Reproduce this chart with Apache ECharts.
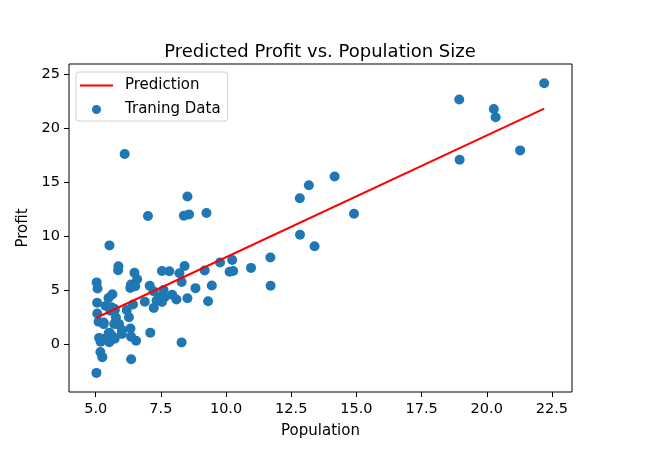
<!DOCTYPE html>
<html>
<head>
<meta charset="utf-8">
<script src="https://cdn.jsdelivr.net/npm/echarts@6/dist/echarts.min.js"></script>
<style>
html,body{margin:0;padding:0;background:#fff;}
#chart{width:659px;height:472px;}
</style>
</head>
<body>
<div id="chart"></div>
<script>
// Training data (Population, Profit)
const population = [6.1101,5.5277,8.5186,7.0032,5.8598,8.3829,7.4764,8.5781,6.4862,5.0546,5.7107,14.164,5.734,8.4084,5.6407,5.3794,6.3654,5.1301,6.4296,7.0708,6.1891,20.27,5.4901,6.3261,5.5649,18.945,12.828,10.957,13.176,22.203,5.2524,6.5894,9.2482,5.8918,8.2111,7.9334,8.0959,5.6063,12.836,6.3534,5.4069,6.8825,11.708,5.7737,7.8247,7.0931,5.0702,5.8014,11.7,5.5416,7.5402,5.3077,7.4239,7.6031,6.3328,6.3589,6.2742,5.6397,9.3102,9.4536,8.8254,5.1793,21.279,14.908,18.959,7.2182,8.2951,10.236,5.4994,20.341,10.136,7.3345,6.0062,7.2259,5.0269,6.5479,7.5386,5.0365,10.274,5.1077,5.7292,5.1884,6.3557,9.7687,6.5159,8.5172,9.1802,6.002,5.5204,5.0594,5.7077,7.6366,5.8707,5.3054,8.2934,13.394,5.4369];
const profit = [17.592,9.1302,13.662,11.854,6.8233,11.886,4.3483,12,6.5987,3.8166,3.2522,15.505,3.1551,7.2258,0.71618,3.5129,5.3048,0.56077,3.6518,5.3893,3.1386,21.767,4.263,5.1875,3.0825,22.638,13.501,7.0467,14.692,24.147,-1.22,5.9966,12.134,1.8495,6.5426,4.5623,4.1164,3.3928,10.117,5.4974,0.55657,3.9115,5.3854,2.4406,6.7318,1.0463,5.1337,1.844,8.0043,1.0179,6.7504,1.8396,4.2885,4.9981,1.4233,-1.4211,2.4756,4.6042,3.9624,5.4141,5.1694,-0.74279,17.929,12.054,17.054,4.8852,5.7442,7.7754,1.0173,20.992,6.6799,4.0259,1.2784,3.3411,-2.6807,0.29678,3.8845,5.7014,6.7526,2.0576,0.47953,0.20421,0.67861,7.5435,5.3436,4.2415,6.7981,0.92695,0.152,2.8214,1.8451,4.2959,7.2029,1.9869,0.14454,9.0551,0.61705];
// Prediction line endpoints
const predX = [5.0269, 22.203];
const predY = [2.43, 21.79];
// Tick labels
const xTicks = [5, 7.5, 10, 12.5, 15, 17.5, 20, 22.5];
const yTicks = [0, 5, 10, 15, 20, 25];

const scatterData = population.map((x, i) => [x, profit[i]]);
const lineData = predX.map((x, i) => [x, predY[i]]);

const font = 'DejaVu Sans';
const chart = echarts.init(document.getElementById('chart'), null, {renderer: 'canvas'});
chart.setOption({
  animation: false,
  backgroundColor: '#fff',
  textStyle: {fontFamily: font},
  title: {
    text: 'Predicted Profit vs. Population Size',
    left: 320, top: 43, textAlign: 'center', padding: 0,
    textStyle: {fontFamily: font, fontSize: 18, fontWeight: 'normal', color: '#000'}
  },
  grid: {left: 69, right: 87, top: 64, bottom: 80, show: true, borderColor: '#000', borderWidth: 1, containLabel: false},
  legend: {
    orient: 'vertical', left: 76, top: 72,
    backgroundColor: '#fff', borderColor: '#d0d0d0', borderWidth: 1, borderRadius: 3,
    padding: [6, 7, 4, 4], itemGap: 9, itemWidth: 33, itemHeight: 9,
    textStyle: {fontFamily: font, fontSize: 15, lineHeight: 15, color: '#000', padding: [0, 0, 0, 7]},
    data: [
      {name: 'Prediction', icon: 'path://M0,6 L33,6 L33,8 L0,8 Z'},
      {name: 'Traning Data', icon: 'circle'}
    ]
  },
  xAxis: {
    type: 'value', min: 3.975, max: 23.27,
    name: 'Population', nameLocation: 'middle', nameGap: 32,
    nameTextStyle: {fontFamily: font, fontSize: 15, color: '#000'},
    splitLine: {show: false},
    axisLine: {show: false, onZero: false},
    axisTick: {show: true, inside: false, length: 5, lineStyle: {color: '#000'}, customValues: xTicks},
    axisLabel: {fontFamily: font, fontSize: 14.5, color: '#000', margin: 10, customValues: xTicks, formatter: v => v.toFixed(1)}
  },
  yAxis: {
    type: 'value', min: -4.45, max: 25.93,
    name: 'Profit', nameLocation: 'middle', nameGap: 38, nameRotate: 90,
    nameTextStyle: {fontFamily: font, fontSize: 15, color: '#000'},
    splitLine: {show: false},
    axisLine: {show: false, onZero: false},
    axisTick: {show: true, inside: false, length: 5, lineStyle: {color: '#000'}, customValues: yTicks},
    axisLabel: {fontFamily: font, fontSize: 14.5, color: '#000', margin: 9, customValues: yTicks}
  },
  series: [
    {
      name: 'Prediction', type: 'line', data: lineData, symbol: 'none', z: 3,
      lineStyle: {color: '#ff0000', width: 2}, itemStyle: {color: '#ff0000'}
    },
    {
      name: 'Traning Data', type: 'scatter', data: scatterData, symbolSize: 10, z: 2,
      itemStyle: {color: '#1f77b4', opacity: 1}
    }
  ]
});
</script>
</body>
</html>
